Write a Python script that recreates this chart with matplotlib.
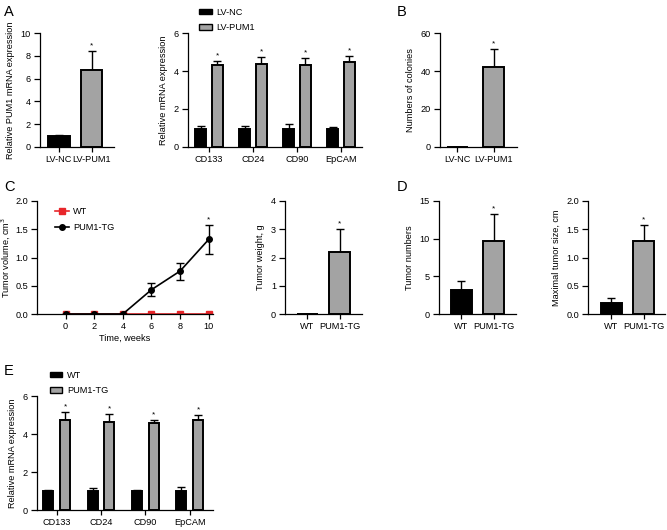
import numpy as np
import matplotlib.pyplot as plt
from matplotlib.patches import Patch
from matplotlib.lines import Line2D

FS = 6.6
plt.rcParams['font.family'] = ['Liberation Sans', 'DejaVu Sans']
plt.rcParams['font.size'] = FS
plt.rcParams['axes.linewidth'] = 0.9
plt.rcParams['xtick.major.width'] = 0.9
plt.rcParams['ytick.major.width'] = 0.9

# data
a1_groups = ['LV-NC', 'LV-PUM1']
a1_vals = [0.95, 6.75]
a1_err = [0.12, 1.65]

genes = ['CD133', 'CD24', 'CD90', 'EpCAM']
a2_nc = [0.97, 0.97, 0.97, 0.97]
a2_nc_err = [0.12, 0.14, 0.23, 0.07]
a2_pum = [4.29, 4.36, 4.34, 4.48]
a2_pum_err = [0.24, 0.38, 0.33, 0.30]

b_vals = [0, 42.3]
b_err = [0, 9.2]

weeks = [0, 2, 4, 6, 8, 10]
vol_wt = [0, 0, 0, 0, 0, 0]
vol_tg = [0, 0, 0, 0.43, 0.76, 1.32]
vol_tg_err = [0, 0, 0, 0.12, 0.15, 0.25]

tg_groups = ['WT', 'PUM1-TG']
weight_vals = [0, 2.2]
weight_err = [0, 0.82]
num_vals = [3.2, 9.7]
num_err = [1.2, 3.6]
size_vals = [0.19, 1.29]
size_err = [0.09, 0.28]

e_wt = [1.0, 1.0, 1.0, 1.0]
e_wt_err = [0.05, 0.17, 0.03, 0.2]
e_tg = [4.72, 4.62, 4.58, 4.72]
e_tg_err = [0.42, 0.45, 0.15, 0.28]

GRAY = '#a3a3a3'
W, H = 667, 530
fig = plt.figure(figsize=(W / 100, H / 100), dpi=100)


def add_ax(x0, x1, ytop, ybot):
    return fig.add_axes([x0 / W, 1 - ybot / H, (x1 - x0) / W, (ybot - ytop) / H])


def style(ax):
    for s in ['top', 'right']:
        ax.spines[s].set_visible(False)
    ax.tick_params(axis='y', length=4.5, pad=2, labelsize=FS)
    ax.tick_params(axis='x', length=3.5, pad=2, labelsize=FS)


def bars(ax, x, vals, err, colors, width):
    ax.bar(x, vals, width, color=colors, edgecolor='black', linewidth=1.4, zorder=2)
    low = np.zeros(len(vals))
    ax.errorbar(x, vals, yerr=[low, err], fmt='none', ecolor='black',
                elinewidth=1.0, capsize=3, capthick=1.0, zorder=1)


def stars(ax, x, tops, dy):
    for xi, t in zip(x, tops):
        ax.text(xi, t + dy, '*', ha='center', va='bottom', fontsize=6)


def two_bar(ax, vals, err, labels, ymax, step, width, xlim, ylabel, star_idx=1):
    x = np.arange(len(vals))
    bars(ax, x, vals, err, ['black', GRAY], width)
    ax.set_xlim(*xlim)
    ax.set_ylim(0, ymax)
    ax.set_yticks(np.arange(0, ymax + step / 2, step))
    ax.set_xticks(x)
    ax.set_xticklabels(labels)
    ax.set_ylabel(ylabel, labelpad=4)
    stars(ax, [x[star_idx]], [vals[star_idx] + err[star_idx]], ymax * 0.015)
    style(ax)


# A left
ax = add_ax(40, 114, 33, 147)
two_bar(ax, a1_vals, a1_err, a1_groups, 10, 2, 0.65, (-0.58, 1.69),
        'Relative PUM1 mRNA expression')

# A right
ax = add_ax(188, 362, 33, 147)
xg = np.arange(len(genes))
bars(ax, xg - 0.19, a2_nc, a2_nc_err, 'black', 0.26)
bars(ax, xg + 0.19, a2_pum, a2_pum_err, GRAY, 0.26)
stars(ax, xg + 0.19, np.array(a2_pum) + np.array(a2_pum_err), 0.09)
ax.set_xlim(-0.48, 3.48)
ax.set_ylim(0, 6)
ax.set_yticks([0, 2, 4, 6])
ax.set_xticks(xg)
ax.set_xticklabels(genes)
ax.set_ylabel('Relative mRNA expression', labelpad=4)
style(ax)
ax.legend(handles=[Patch(facecolor='black', edgecolor='black', label='LV-NC'),
                   Patch(facecolor=GRAY, edgecolor='black', label='LV-PUM1')],
          loc='upper left', bbox_to_anchor=(195 / W, 1 - 4 / H), bbox_transform=fig.transFigure,
          frameon=False, fontsize=FS, handlelength=1.4, handleheight=0.6, labelspacing=0.7,
          handletextpad=0.5, borderaxespad=0)

# B
ax = add_ax(440, 517, 33, 147)
two_bar(ax, b_vals, b_err, a1_groups, 60, 20, 0.58, (-0.47, 1.64), 'Numbers of colonies')

# C left
ax = add_ax(37, 213, 201, 314)
ax.plot(weeks, vol_wt, color='#e8262a', marker='s', markersize=4, linewidth=1.2,
        zorder=2, label='WT')
ax.errorbar(weeks, vol_tg, yerr=vol_tg_err, color='black', marker='o', markersize=4,
            linewidth=1.2, elinewidth=1.0, capsize=3, capthick=1.0, zorder=3, label='PUM1-TG')
ax.text(10, vol_tg[-1] + vol_tg_err[-1] + 0.03, '*', ha='center', va='bottom', fontsize=6)
ax.set_xlim(-2, 10.3)
ax.set_ylim(0, 2.0)
ax.set_xticks(weeks)
ax.set_yticks([0, 0.5, 1.0, 1.5, 2.0])
ax.set_yticklabels(['0.0', '0.5', '1.0', '1.5', '2.0'])
ax.set_xlabel('Time, weeks', labelpad=2)
ax.set_ylabel('Tumor volume, cm$^3$', labelpad=2)
style(ax)
h = [Line2D([], [], color='#e8262a', marker='s', markersize=4, linewidth=1.2),
     Line2D([], [], color='black', marker='o', markersize=4, linewidth=1.2)]
ax.legend(h, ['WT', 'PUM1-TG'], loc='upper left', bbox_to_anchor=(0.08, 0.98),
          frameon=False, fontsize=FS, handlelength=1.6, handletextpad=0.4, labelspacing=0.8,
          borderaxespad=0)

# C right
ax = add_ax(285, 362, 201, 314)
two_bar(ax, weight_vals, weight_err, tg_groups, 4, 1, 0.65, (-0.68, 1.69), 'Tumor weight, g')

# D left
ax = add_ax(439, 516, 201, 314)
two_bar(ax, num_vals, num_err, tg_groups, 15, 5, 0.65, (-0.68, 1.69), 'Tumor numbers')

# D right
ax = add_ax(588, 665, 201, 314)
two_bar(ax, size_vals, size_err, tg_groups, 2.0, 0.5, 0.65, (-0.72, 1.65),
        'Maximal tumor size, cm')
ax.set_yticklabels(['0.0', '0.5', '1.0', '1.5', '2.0'])

# E
ax = add_ax(37, 213, 396, 510)
bars(ax, xg - 0.19, e_wt, e_wt_err, 'black', 0.225)
bars(ax, xg + 0.19, e_tg, e_tg_err, GRAY, 0.225)
stars(ax, xg + 0.19, np.array(e_tg) + np.array(e_tg_err), 0.09)
ax.set_xlim(-0.44, 3.52)
ax.set_ylim(0, 6)
ax.set_yticks([0, 2, 4, 6])
ax.set_xticks(xg)
ax.set_xticklabels(genes)
ax.set_ylabel('Relative mRNA expression', labelpad=4)
style(ax)
ax.legend(handles=[Patch(facecolor='black', edgecolor='black', label='WT'),
                   Patch(facecolor=GRAY, edgecolor='black', label='PUM1-TG')],
          loc='upper left', bbox_to_anchor=(46 / W, 1 - 367 / H), bbox_transform=fig.transFigure,
          frameon=False, fontsize=FS, handlelength=1.4, handleheight=0.6, labelspacing=0.7,
          handletextpad=0.5, borderaxespad=0)

# panel letters
for lab, x, y in [('A', 4, 12), ('B', 397, 12), ('C', 4, 187), ('D', 397, 187), ('E', 4, 371)]:
    fig.text(x / W, 1 - y / H, lab, fontsize=10.5, va='center', ha='left')

fig.savefig('out.png', dpi=100)
